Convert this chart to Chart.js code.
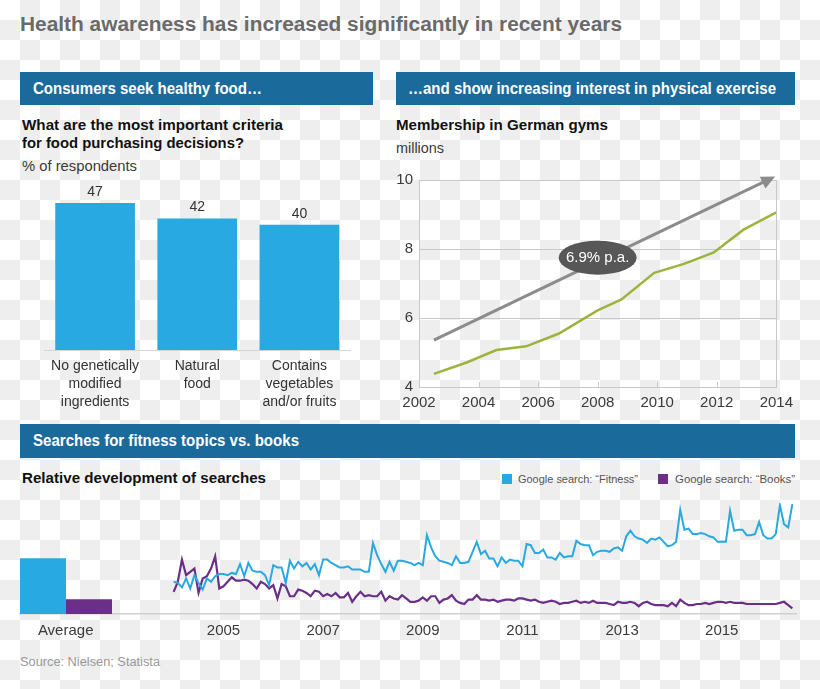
<!DOCTYPE html>
<html>
<head>
<meta charset="utf-8">
<title>Health awareness</title>
<script src="https://cdn.jsdelivr.net/npm/chart.js@4.4.1/dist/chart.umd.min.js"></script>
<style>
  html, body { margin: 0; padding: 0; }
  body {
    width: 820px; height: 689px; position: relative; overflow: hidden;
    font-family: "Liberation Sans", Arial, sans-serif;
    background-color: #fff;
    background-image: conic-gradient(#eeeeee 25%, #ffffff 0 50%, #eeeeee 0 75%, #ffffff 0);
    background-size: 40px 40px;
  }
  .t { position: absolute; white-space: nowrap; display: inline-block; transform-origin: left center; }
  .bold { font-weight: bold; color: #111; }
  .hdr { position: absolute; background: #1b6a9c; color: #fff; font-weight: bold; font-size: 16px; box-sizing: border-box; padding-left: 13px; }
  .hdr span { display: inline-block; transform-origin: left center; white-space: nowrap; }
  canvas { position: absolute; }
  .sq { position: absolute; width: 10px; height: 10px; }
</style>
</head>
<body>

<div class="t" id="title" style="left:20px; top:12px; font-size:20px; line-height:24px; font-weight:bold; color:#6a6a6a;" data-w="602">Health awareness has increased significantly in recent years</div>

<div class="hdr" style="left:20px; top:72px; width:353px; height:33px; line-height:33px;"><span data-w="229">Consumers seek healthy food…</span></div>
<div class="hdr" style="left:396px; top:72px; width:399px; height:33px; line-height:33px; padding-left:12px;"><span data-w="368">…and show increasing interest in physical exercise</span></div>

<div class="t bold" style="left:22px; top:116px; font-size:15px; line-height:18px;" data-w="261">What are the most important criteria</div>
<div class="t bold" style="left:22px; top:134px; font-size:15px; line-height:18px;" data-w="222">for food purchasing decisions?</div>
<div class="t" style="left:22px; top:157px; font-size:14px; line-height:18px; color:#3a3a3a;" data-w="115">% of respondents</div>

<div class="t bold" style="left:396px; top:116px; font-size:15px; line-height:18px;" data-w="212">Membership in German gyms</div>
<div class="t" style="left:396px; top:139px; font-size:14px; line-height:18px; color:#3a3a3a;" data-w="48">millions</div>

<canvas id="foodChart" width="353" height="250" style="left:20px; top:170px;"></canvas>
<canvas id="gymChart" width="420" height="250" style="left:380px; top:165px;"></canvas>

<div class="hdr" style="left:20px; top:424px; width:775px; height:34px; line-height:34px;"><span data-w="266">Searches for fitness topics vs. books</span></div>
<div class="t bold" style="left:22px; top:469px; font-size:15px; line-height:18px;" data-w="244">Relative development of searches</div>

<div class="sq" style="left:502px; top:474px; background:#29a9e1;"></div>
<div class="t" style="left:518px; top:472px; font-size:11px; line-height:14px; color:#555;" data-w="120" id="legFit"></div>
<div class="sq" style="left:658px; top:474px; background:#6b2f88;"></div>
<div class="t" style="left:675px; top:472px; font-size:11px; line-height:14px; color:#555;" data-w="120" id="legBooks"></div>

<canvas id="searchChart" width="820" height="155" style="left:0px; top:495px;"></canvas>

<div class="t" style="left:20px; top:654px; font-size:12.5px; line-height:16px; color:#999;" data-w="140">Source: Nielsen; Statista</div>

<script>
// ---- data: food purchasing criteria (% of respondents)
const criteriaLabels = [['No genetically', 'modified', 'ingredients'], ['Natural', 'food'], ['Contains', 'vegetables', 'and/or fruits']];
const criteriaShare = [47, 42, 40];

// ---- data: membership in German gyms (millions)
const gymYears = [2002.5, 2003.6, 2004.6, 2005.6, 2006.7, 2008.0, 2008.8, 2009.9, 2010.9, 2011.9, 2012.9, 2014.0];
const gymMembers = [4.38, 4.71, 5.07, 5.18, 5.55, 6.22, 6.54, 7.31, 7.57, 7.90, 8.56, 9.06];
const trendYears = [2002.5, 2013.6];
const trendValues = [5.36, 9.95];
const trendLabel = '6.9% p.a.';
const trendLabelAt = [2008.0, 7.75];
const gymTickYears = [2002, 2004, 2006, 2008, 2010, 2012, 2014];

// ---- data: google searches, monthly from Jan 2004 (index = month)
const seriesNames = ['Google search: \u201cFitness\u201d', 'Google search: \u201cBooks\u201d'];
const fitnessSearches = [
  29, 28, 24, 32, 23, 35, 28, 22, 32, 29, 34, 36, 36,
  35, 37, 36, 45, 34, 46, 39, 38, 38, 35, 26, 44,
  42, 42, 28, 48, 41, 47, 43, 46, 40, 45, 35, 49,
  49, 46, 44, 42, 42, 43, 40, 40, 40, 38, 38, 64,
  53, 45, 38, 47, 39, 48, 48, 47, 46, 44, 46, 44,
  71, 60, 52, 48, 47, 46, 44, 52, 46, 46, 47, 56, 65,
  54, 57, 50, 50, 43, 51, 46, 49, 48, 48, 43, 63, 62,
  55, 55, 58, 51, 51, 49, 55, 51, 52, 52, 66, 63, 62,
  62, 53, 56, 57, 57, 56, 59, 60, 57, 70,
  75, 70, 68, 67, 64, 68, 67, 69, 65, 61,
  62, 65, 94, 76, 77, 72, 72, 73, 72, 70,
  69, 65, 65, 65, 93, 75, 76, 76, 71, 71,
  72, 83, 71, 68, 68, 72, 98, 81, 78, 99
];
const booksSearches = [
  20, 29, 49, 35, 38, 41, 19, 32, 34, 41, 52, 23, 25,
  29, 33, 30, 30, 31, 30, 27, 23, 29, 27, 23, 26,
  14, 27, 25, 16, 16, 22, 21, 19, 16, 21, 20, 16,
  18, 16, 19, 15, 15, 19, 11, 16, 20, 16, 17, 16,
  16, 20, 12, 16, 14, 13, 17, 14, 11, 11, 12, 15,
  12, 16, 16, 10, 13, 14, 17, 12, 10, 9, 13, 13, 17,
  13, 13, 12, 13, 11, 12, 13, 13, 12, 14, 14, 13, 12,
  13, 11, 10, 11, 12, 11, 9, 10, 10, 11, 12, 10, 11,
  10, 12, 10, 10, 10, 9, 8, 11, 10, 10,
  11, 10, 7, 10, 11, 9, 8, 8, 8, 7,
  10, 7, 13, 10, 8, 8, 9, 9, 10, 9,
  10, 11, 11, 10, 11, 10, 10, 10, 9, 9,
  9, 9, 9, 9, 9, 9, 10, 11, 8, 5
];
const avgFitness = 50;
const avgBooks = 13;
const searchTickMonths = [12, 36, 60, 84, 108, 132];
const searchTickLabels = ['2005', '2007', '2009', '2011', '2013', '2015'];


const BLUE = '#29a9e1';
const PURPLE = '#6b2f88';
const GREEN = '#9db43c';
const GRID = '#c9c9c9';

Chart.defaults.font.family = "'Liberation Sans', Arial, sans-serif";
Chart.defaults.color = '#333';
Chart.defaults.animation = false;
Chart.defaults.plugins.legend.display = false;
Chart.defaults.plugins.tooltip.enabled = false;

document.getElementById('legFit').textContent = seriesNames[0];
document.getElementById('legBooks').textContent = seriesNames[1];


// value labels above bars
const barValues = {
	id: 'barValues',
	afterDatasetsDraw(chart) {
		const ctx = chart.ctx;
		const meta = chart.getDatasetMeta(0);
		ctx.save();
		ctx.font = "14px 'Liberation Sans', Arial, sans-serif";
		ctx.fillStyle = '#333';
		ctx.textAlign = 'center';
		ctx.textBaseline = 'middle';
		meta.data.forEach((bar, i) => {
			ctx.fillText(String(chart.data.datasets[0].data[i]), bar.x, bar.y - 11);
		});
		ctx.restore();
	}
};

new Chart(document.getElementById('foodChart'), {
	type: 'bar',
	data: {
		labels: criteriaLabels,
		datasets: [{
			data: criteriaShare,
			backgroundColor: BLUE,
			categoryPercentage: 1,
			barPercentage: 0.78
		}]
	},
	options: {
		responsive: false,
		layout: { padding: { left: 24, right: 22.5, top: 23.5, bottom: 0 } },
		scales: {
			x: {
				grid: { display: false },
				border: { display: true, color: '#d6d6d6' },
				ticks: { padding: -1, color: '#333', font: { size: 14, lineHeight: 1.3 }, maxRotation: 0 },
				afterFit: s => { s.height = 70; }
			},
			y: { display: false, min: 0, max: 50 }
		}
	},
	plugins: [barValues]
});


// arrow head, inward ticks and growth label for the gym chart
const gymExtras = {
	id: 'gymExtras',
	afterDatasetsDraw(chart) {
		const ctx = chart.ctx;
		const xs = chart.scales.x, ys = chart.scales.y;

		// small ticks inside the bottom axis
		ctx.save();
		ctx.strokeStyle = GRID;
		ctx.lineWidth = 1;
		gymTickYears.slice(1, -1).forEach(yr => {
			const px = Math.round(xs.getPixelForValue(yr)) + 0.5;
			ctx.beginPath();
			ctx.moveTo(px, ys.bottom);
			ctx.lineTo(px, ys.bottom - 5);
			ctx.stroke();
		});
		ctx.restore();

		// arrow head on the trend line
		const pts = chart.getDatasetMeta(1).data;
		const a = pts[pts.length - 2], b = pts[pts.length - 1];
		const ang = Math.atan2(b.y - a.y, b.x - a.x);
		const len = 14, half = 6.5;
		const tipX = b.x + Math.cos(ang) * (len - 2), tipY = b.y + Math.sin(ang) * (len - 2);
		const bx = tipX - Math.cos(ang) * len, by = tipY - Math.sin(ang) * len;
		ctx.save();
		ctx.fillStyle = '#8c8c8c';
		ctx.beginPath();
		ctx.moveTo(tipX, tipY);
		ctx.lineTo(bx + Math.sin(ang) * half, by - Math.cos(ang) * half);
		ctx.lineTo(bx - Math.sin(ang) * half, by + Math.cos(ang) * half);
		ctx.closePath();
		ctx.fill();

		// growth bubble
		const cx = xs.getPixelForValue(trendLabelAt[0]);
		const cy = ys.getPixelForValue(trendLabelAt[1]);
		ctx.fillStyle = '#575757';
		ctx.beginPath();
		ctx.ellipse(cx, cy, 39, 17, 0, 0, Math.PI * 2);
		ctx.fill();
		ctx.fillStyle = '#fff';
		ctx.font = "15px 'Liberation Sans', Arial, sans-serif";
		ctx.textAlign = 'center';
		ctx.textBaseline = 'middle';
		ctx.fillText(trendLabel, cx, cy);
		ctx.restore();
	}
};

new Chart(document.getElementById('gymChart'), {
	type: 'line',
	data: {
		datasets: [{
			data: gymYears.map((yr, i) => ({ x: yr, y: gymMembers[i] })),
			borderColor: GREEN,
			borderWidth: 2.5,
			pointRadius: 0,
			tension: 0
		}, {
			data: trendYears.map((yr, i) => ({ x: yr, y: trendValues[i] })),
			borderColor: '#8c8c8c',
			borderWidth: 3,
			borderCapStyle: 'butt',
			pointRadius: 0,
			clip: false
		}]
	},
	options: {
		responsive: false,
		layout: { padding: { left: 0, right: 23, top: 14, bottom: 0 } },
		scales: {
			x: {
				type: 'linear', min: 2002, max: 2014,
				afterBuildTicks: s => { s.ticks = gymTickYears.map(v => ({ value: v })); },
				ticks: { padding: 7, font: { size: 15 }, color: '#3a3a3a', callback: v => String(v) },
				grid: {
					drawTicks: false,
					color: c => (c.tick && c.tick.value === 2014) ? GRID : 'rgba(0,0,0,0)'
				},
				border: { display: true, color: GRID },
				afterFit: s => { s.height = 28; }
			},
			y: {
				min: 4, max: 10,
				ticks: { stepSize: 2, padding: 6, font: { size: 15 }, color: '#3a3a3a' },
				grid: { drawTicks: false, color: GRID },
				border: { display: true, color: GRID },
				afterFit: s => { s.width = 39; }
			}
		}
	},
	plugins: [gymExtras]
});


// searches chart: average bars on the left, monthly lines on the right
const AVG_POS = -26;

new Chart(document.getElementById('searchChart'), {
	type: 'line',
	data: {
		datasets: [{
			type: 'bar',
			data: [{ x: AVG_POS, y: avgFitness }],
			backgroundColor: BLUE,
			barThickness: 46
		}, {
			type: 'bar',
			data: [{ x: AVG_POS, y: avgBooks }],
			backgroundColor: PURPLE,
			barThickness: 46
		}, {
			data: fitnessSearches.map((v, i) => ({ x: i, y: v })),
			borderColor: BLUE,
			borderWidth: 2,
			pointRadius: 0,
			tension: 0
		}, {
			data: booksSearches.map((v, i) => ({ x: i, y: v })),
			borderColor: PURPLE,
			borderWidth: 2.2,
			pointRadius: 0,
			tension: 0
		}]
	},
	options: {
		responsive: false,
		layout: { padding: { left: 20, right: 23.5, top: 8, bottom: 0 } },
		scales: {
			x: {
				type: 'linear', min: -37, max: 150, offset: false,
				afterBuildTicks: s => {
					s.ticks = [{ value: AVG_POS }].concat(searchTickMonths.map(v => ({ value: v })));
				},
				ticks: {
					autoSkip: false, maxRotation: 0, padding: 0,
					font: { size: 15 }, color: '#3a3a3a',
					callback: v => v === AVG_POS ? 'Average' : searchTickLabels[searchTickMonths.indexOf(v)]
				},
				grid: { display: false },
				border: { display: true, color: '#cfcfcf', width: 1.5 },
				afterFit: s => { s.height = 36; }
			},
			y: { display: false, min: 0, max: 100 }
		}
	}
});


// squeeze headline texts to the widths of the condensed original font
document.querySelectorAll('[data-w]').forEach(el => {
	const w = el.getBoundingClientRect().width;
	if (w > 0) el.style.transform = 'scaleX(' + (el.dataset.w / w) + ')';
});
</script>
</body>
</html>
